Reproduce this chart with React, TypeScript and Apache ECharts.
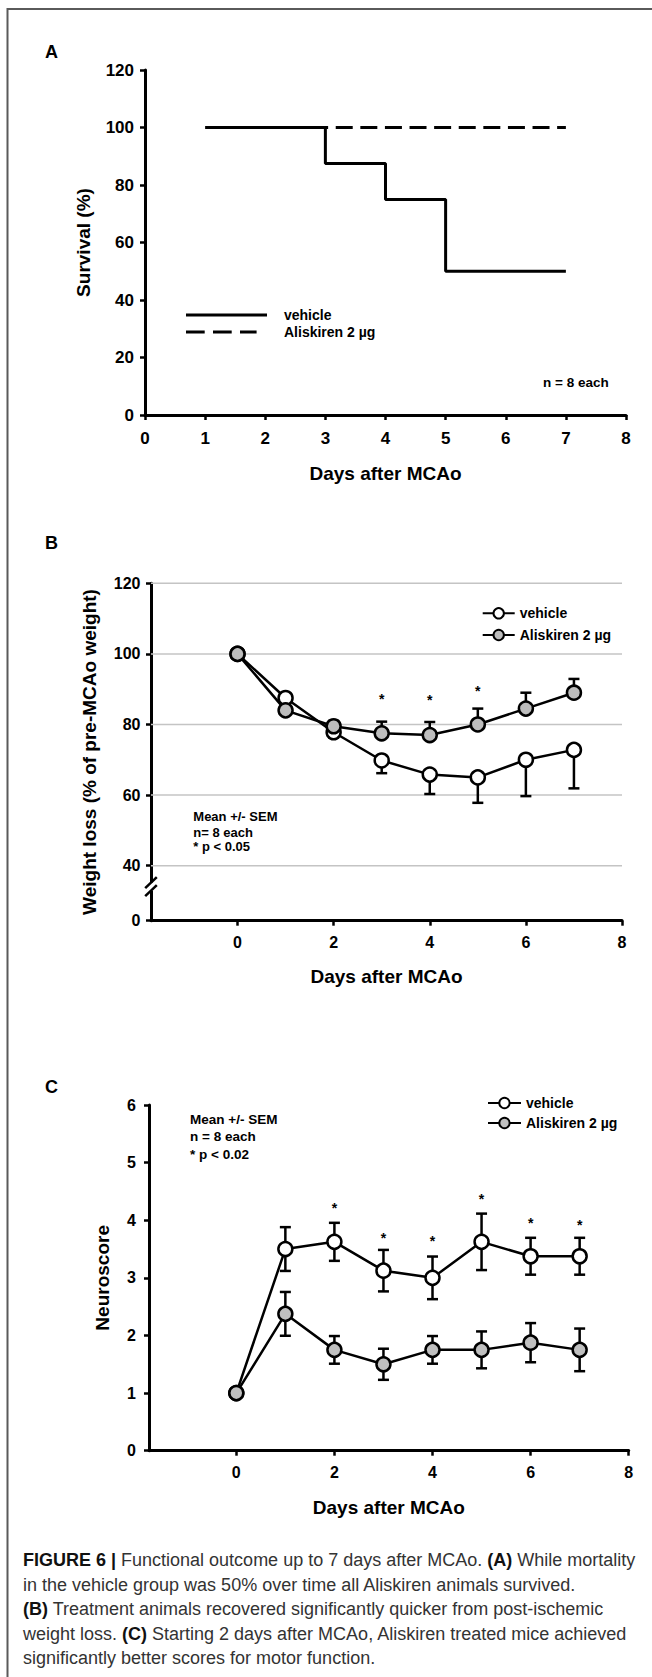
import React, { useEffect, useRef } from "react";
import * as echarts from "echarts";

const FONT = "'Liberation Sans', Arial, Helvetica, sans-serif";

// ---------- Panel A: survival ----------
const survivalDays = [1, 3, 4, 5, 7];
const survivalVehicle = [100, 87.5, 75, 50, 50];
const survivalAliskiren = [100, 100, 100, 100, 100];
const survivalXRange = [0, 8];
const survivalYRange = [0, 120];

// ---------- Panel B: weight ----------
const days = [0, 1, 2, 3, 4, 5, 6, 7];
const weightVehicle = [100, 87.5, 77.8, 69.8, 65.8, 65.0, 70.0, 72.8];
const weightVehicleSem = [0, 1.5, 1.5, 3.6, 5.5, 7.2, 10.3, 10.9];
const weightAliskiren = [100, 84, 79.5, 77.5, 77, 80, 84.5, 89];
const weightAliskirenSem = [0, 1.2, 1.5, 3.3, 3.7, 4.5, 4.5, 3.9];
const weightYTicks = [40, 60, 80, 100, 120];
const weightAxisBottom = 24.4; // broken axis: bottom shown as "0"
const weightXRange = [-1.8, 8];
const evenDayTicks = [0, 2, 4, 6, 8];
const weightSigDays = [3, 4, 5];
const weightSigY = [87.3, 87.0, 89.5];
const weightBreakMarks = [35.2, 32.9];

// ---------- Panel C: neuroscore ----------
const scoreVehicle = [1, 3.5, 3.625, 3.125, 3.0, 3.625, 3.375, 3.375];
const scoreVehicleSem = [0, 0.38, 0.33, 0.36, 0.37, 0.49, 0.32, 0.32];
const scoreAliskiren = [1, 2.375, 1.75, 1.5, 1.75, 1.75, 1.875, 1.75];
const scoreAliskirenSem = [0, 0.38, 0.24, 0.27, 0.24, 0.32, 0.34, 0.37];
const scoreXRange = [-1.78, 8];
const scoreSigDays = [2, 3, 4, 5, 6, 7];
const scoreSigY = [4.22, 3.69, 3.64, 4.37, 3.95, 3.92];

const legendNames: Record<string, string> = {
  A_veh: "vehicle",
  A_ali: "Aliskiren 2 µg",
  B_veh: "vehicle",
  B_ali: "Aliskiren 2 µg",
  C_veh: "vehicle",
  C_ali: "Aliskiren 2 µg",
};

const CAPTION =
  "{b|FIGURE 6 |} Functional outcome up to 7 days after MCAo. {b|(A)} While mortality\n" +
  "in the vehicle group was 50% over time all Aliskiren animals survived.\n" +
  "{b|(B)} Treatment animals recovered significantly quicker from post-ischemic\n" +
  "weight loss. {b|(C)} Starting 2 days after MCAo, Aliskiren treated mice achieved\n" +
  "significantly better scores for motor function.";

function axisBase(fontSize: number) {
  return {
    type: "value",
    axisLine: { show: true, onZero: false, lineStyle: { color: "#000", width: 3 } },
    axisTick: { show: true, length: 5, lineStyle: { color: "#000", width: 2.5 } },
    splitLine: { show: false },
    nameLocation: "middle",
    nameTextStyle: { color: "#000", fontWeight: "bold", fontSize: 19, fontFamily: FONT },
    axisLabelBase: { color: "#000", fontWeight: "bold", fontSize, fontFamily: FONT },
  };
}

function mkAxis(fontSize: number, extra: any, labelExtra: any, tickExtra: any = {}) {
  const b: any = axisBase(fontSize);
  const lab = { ...b.axisLabelBase, ...labelExtra };
  delete b.axisLabelBase;
  return { ...b, ...extra, axisLabel: lab, axisTick: { ...b.axisTick, ...tickExtra } };
}

function errorBarRender(params: any, api: any) {
  const x = api.value(0);
  const mean = api.value(1);
  const lo = api.value(2);
  const hi = api.value(3);
  const pLo = api.coord([x, lo]);
  const pHi = api.coord([x, hi]);
  const half = 5.5;
  const st = { stroke: "#000", lineWidth: 2.5 };
  const children: any[] = [
    { type: "line", shape: { x1: pLo[0], y1: pLo[1], x2: pHi[0], y2: pHi[1] }, style: st },
  ];
  if (lo < mean)
    children.push({ type: "line", shape: { x1: pLo[0] - half, y1: pLo[1], x2: pLo[0] + half, y2: pLo[1] }, style: st });
  if (hi > mean)
    children.push({ type: "line", shape: { x1: pHi[0] - half, y1: pHi[1], x2: pHi[0] + half, y2: pHi[1] }, style: st });
  return { type: "group", children };
}

function asteriskRender(params: any, api: any) {
  const p = api.coord([api.value(0), api.value(1)]);
  return {
    type: "text",
    x: p[0],
    y: p[1],
    style: { text: "*", fill: "#000", font: `bold 14px ${FONT}`, align: "center", verticalAlign: "middle" },
  };
}

function gridLineRender(params: any, api: any) {
  const p1 = api.coord([api.value(0), api.value(1)]);
  const p2 = api.coord([api.value(2), api.value(1)]);
  return {
    type: "line",
    shape: { x1: p1[0], y1: p1[1], x2: p2[0], y2: p2[1] },
    style: { stroke: "#c4c4c4", lineWidth: 1.5 },
  };
}

const markerSeries = (name: string, xi: number, vals: number[], fill: string, z: number) => ({
  name,
  type: "line",
  xAxisIndex: xi,
  yAxisIndex: xi,
  data: days.map((d, i) => [d, vals[i]]),
  symbol: "circle",
  symbolSize: 14,
  showSymbol: true,
  itemStyle: { color: fill, borderColor: "#000", borderWidth: 2.5 },
  lineStyle: { color: "#000", width: 2.5 },
  z,
  silent: true,
});

export default function App() {
  const ref = useRef<HTMLDivElement>(null);
  useEffect(() => {
    document.body.style.margin = "0";
    const chart = echarts.init(ref.current!, null, { renderer: "svg" });

    const legendText = { color: "#000", fontWeight: "bold", fontSize: 14, fontFamily: FONT };

    const option: any = {
      animation: false,
      backgroundColor: "#fff",
      grid: [
        { left: 145, top: 70, width: 481, height: 345, outerBoundsMode: "none", containLabel: false },
        { left: 151, top: 583.3, width: 471, height: 337.4, outerBoundsMode: "none", containLabel: false },
        { left: 149, top: 1105, width: 479.7, height: 345.7, outerBoundsMode: "none", containLabel: false },
      ],
      xAxis: [
        mkAxis(17, {
          gridIndex: 0, min: survivalXRange[0], max: survivalXRange[1], interval: 1,
          name: "Days after MCAo", nameGap: 48.5,
        }, { margin: 14.5 }),
        mkAxis(16, {
          gridIndex: 1, min: weightXRange[0], max: weightXRange[1],
          name: "Days after MCAo", nameGap: 45.8,
        }, { margin: 14, customValues: evenDayTicks }, { customValues: evenDayTicks }),
        mkAxis(16, {
          gridIndex: 2, min: scoreXRange[0], max: scoreXRange[1],
          name: "Days after MCAo", nameGap: 46.8,
        }, { margin: 14, customValues: evenDayTicks }, { customValues: evenDayTicks }),
      ],
      yAxis: [
        mkAxis(17, {
          gridIndex: 0, min: survivalYRange[0], max: survivalYRange[1], interval: 20,
          name: "Survival (%)", nameGap: 52.5,
        }, { margin: 11 }),
        mkAxis(16, {
          gridIndex: 1, min: weightAxisBottom, max: 120,
          name: "Weight loss (% of pre-MCAo weight)", nameGap: 52,
        }, {
          margin: 10.5,
          customValues: [weightAxisBottom, ...weightYTicks],
          formatter: (v: number) => (v === weightAxisBottom ? "0" : String(v)),
        }, { customValues: [weightAxisBottom, ...weightYTicks] }),
        mkAxis(16, {
          gridIndex: 2, min: 0, max: 6, interval: 1,
          name: "Neuroscore", nameGap: 37.5,
        }, { margin: 13 }),
      ],
      legend: [
        {
          orient: "vertical", left: 181, top: 303, itemWidth: 93, itemHeight: 3, itemGap: 3,
          selectedMode: false, textStyle: legendText,
          formatter: (n: string) => legendNames[n],
          data: [
            { name: "A_veh", icon: "path://M0,0h81v3h-81z M92.9,1.45h0.1v0.1h-0.1z", itemStyle: { color: "#000", borderWidth: 0 } },
            { name: "A_ali", icon: "path://M0,0h18.7v3h-18.7z M27,0h18.7v3h-18.7z M54,0h16.6v3h-16.6z M92.9,1.45h0.1v0.1h-0.1z", itemStyle: { color: "#000", borderWidth: 0 } },
          ],
        },
        {
          orient: "vertical", left: 476.7, top: 601.3, itemWidth: 32, itemHeight: 13, itemGap: 7.7,
          selectedMode: false, textStyle: legendText,
          formatter: (n: string) => legendNames[n],
          data: ["B_veh", "B_ali"],
        },
        {
          orient: "vertical", left: 482, top: 1091, itemWidth: 33, itemHeight: 13, itemGap: 6,
          selectedMode: false, textStyle: legendText,
          formatter: (n: string) => legendNames[n],
          data: ["C_veh", "C_ali"],
        },
      ],
      series: [
        // Panel A
        {
          name: "A_ali", type: "line", xAxisIndex: 0, yAxisIndex: 0, step: "end", symbol: "none",
          data: survivalDays.map((d, i) => [d, survivalAliskiren[i]]),
          lineStyle: { color: "#000", width: 3, type: [17, 7.6], dashOffset: 17.4 },
          itemStyle: { color: "#000" }, z: 2, silent: true,
        },
        {
          name: "A_veh", type: "line", xAxisIndex: 0, yAxisIndex: 0, step: "end", symbol: "none",
          data: survivalDays.map((d, i) => [d, survivalVehicle[i]]),
          lineStyle: { color: "#000", width: 3 },
          itemStyle: { color: "#000" }, z: 3, silent: true,
        },
        // Panel B
        {
          type: "custom", xAxisIndex: 1, yAxisIndex: 1, silent: true, z: 1,
          renderItem: gridLineRender, encode: { x: [0, 2], y: 1 },
          data: weightYTicks.map((v) => [weightXRange[0], v, weightXRange[1]]),
        },
        {
          type: "custom", xAxisIndex: 1, yAxisIndex: 1, silent: true, z: 2,
          renderItem: errorBarRender, encode: { x: 0, y: [1, 2, 3] },
          data: days.map((d, i) => [d, weightVehicle[i], weightVehicle[i] - weightVehicleSem[i], weightVehicle[i]])
            .filter((r, i) => weightVehicleSem[i] > 0),
        },
        {
          type: "custom", xAxisIndex: 1, yAxisIndex: 1, silent: true, z: 2,
          renderItem: errorBarRender, encode: { x: 0, y: [1, 2, 3] },
          data: days.map((d, i) => [d, weightAliskiren[i], weightAliskiren[i], weightAliskiren[i] + weightAliskirenSem[i]])
            .filter((r, i) => weightAliskirenSem[i] > 0),
        },
        markerSeries("B_veh", 1, weightVehicle, "#ffffff", 3),
        markerSeries("B_ali", 1, weightAliskiren, "#bdbdbd", 4),
        {
          type: "custom", xAxisIndex: 1, yAxisIndex: 1, silent: true, z: 5,
          renderItem: asteriskRender, encode: { x: 0, y: 1 },
          data: weightSigDays.map((d, i) => [d, weightSigY[i]]),
        },
        // Panel C
        {
          type: "custom", xAxisIndex: 2, yAxisIndex: 2, silent: true, z: 2,
          renderItem: errorBarRender, encode: { x: 0, y: [1, 2, 3] },
          data: days.map((d, i) => [d, scoreVehicle[i], scoreVehicle[i] - scoreVehicleSem[i], scoreVehicle[i] + scoreVehicleSem[i]])
            .filter((r, i) => scoreVehicleSem[i] > 0),
        },
        {
          type: "custom", xAxisIndex: 2, yAxisIndex: 2, silent: true, z: 2,
          renderItem: errorBarRender, encode: { x: 0, y: [1, 2, 3] },
          data: days.map((d, i) => [d, scoreAliskiren[i], scoreAliskiren[i] - scoreAliskirenSem[i], scoreAliskiren[i] + scoreAliskirenSem[i]])
            .filter((r, i) => scoreAliskirenSem[i] > 0),
        },
        markerSeries("C_veh", 2, scoreVehicle, "#ffffff", 3),
        markerSeries("C_ali", 2, scoreAliskiren, "#c0c0c0", 4),
        {
          type: "custom", xAxisIndex: 2, yAxisIndex: 2, silent: true, z: 5,
          renderItem: asteriskRender, encode: { x: 0, y: 1 },
          data: scoreSigDays.map((d, i) => [d, scoreSigY[i]]),
        },
      ],
    };
    chart.setOption(option);

    // broken-axis marks on panel B
    const b1 = chart.convertToPixel({ gridIndex: 1 }, [weightXRange[0], weightBreakMarks[0]]) as number[];
    const b2 = chart.convertToPixel({ gridIndex: 1 }, [weightXRange[0], weightBreakMarks[1]]) as number[];
    const ax = b1[0];

    const txt = (text: string, x: number, y: number, size: number, extra: any = {}) => ({
      type: "text", x, y, z: 100,
      style: { text, fill: "#000", font: `bold ${size}px ${FONT}`, align: "left", verticalAlign: "middle", ...extra },
    });

    const graphics: any[] = [
      {
        type: "polyline", z: 100,
        shape: { points: [[7.5, 1700], [7.5, 9], [660, 9]] },
        style: { stroke: "#5a5a5a", lineWidth: 2, fill: "none" },
      },
      txt("A", 45, 52, 18),
      txt("B", 45, 543, 18),
      txt("C", 45, 1086.7, 18),
      txt("n = 8 each", 543, 382, 13.5),
      txt("Mean +/- SEM", 193.3, 816.7, 13),
      txt("n= 8 each", 193.3, 832.3, 13),
      txt("* p < 0.05", 193.3, 846.7, 13),
      txt("Mean +/- SEM", 190, 1119, 13.5),
      txt("n = 8 each", 190, 1136.5, 13.5),
      txt("* p < 0.02", 190, 1154, 13.5),
      {
        type: "rect", z: 100,
        shape: { x: ax - 3, y: b1[1], width: 6, height: b2[1] - b1[1] },
        style: { fill: "#fff" },
      },
      {
        type: "line", z: 101,
        shape: { x1: ax - 5.8, y1: b1[1] + 5.5, x2: ax + 5.8, y2: b1[1] - 5.5 },
        style: { stroke: "#000", lineWidth: 2.5 },
      },
      {
        type: "line", z: 101,
        shape: { x1: ax - 5.8, y1: b2[1] + 5.5, x2: ax + 5.8, y2: b2[1] - 5.5 },
        style: { stroke: "#000", lineWidth: 2.5 },
      },
      {
        type: "text", x: 23, y: 1547.75, z: 100,
        style: {
          text: CAPTION,
          fill: "#333",
          font: `18px ${FONT}`,
          fontSize: 18,
          fontFamily: FONT,
          lineHeight: 24.5,
          align: "left",
          verticalAlign: "top",
          rich: {
            b: { fontWeight: "bold", fill: "#111", fontSize: 18, fontFamily: FONT, lineHeight: 24.5 },
          },
        },
      },
    ];
    chart.setOption({ graphic: graphics });

    return () => chart.dispose();
  }, []);
  return <div ref={ref} style={{ width: 652, height: 1677 }} />;
}
